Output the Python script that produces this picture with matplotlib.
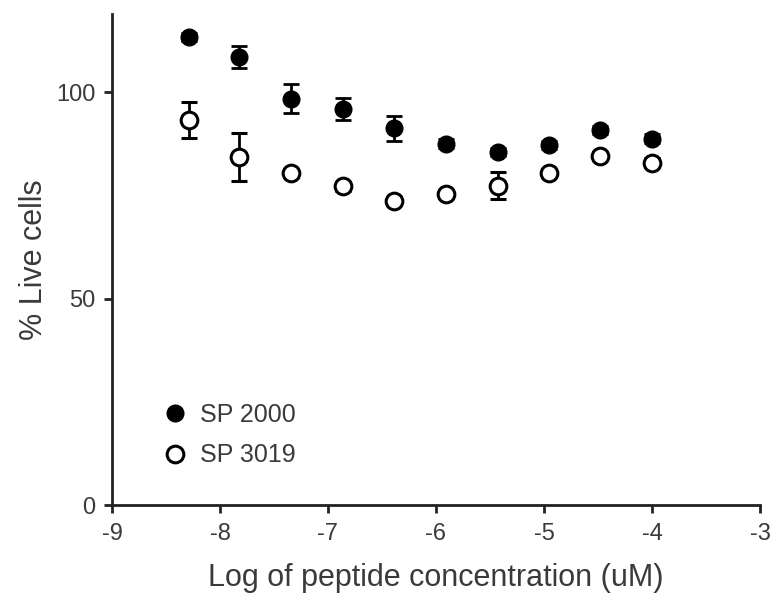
import numpy as np
import matplotlib
matplotlib.use("Agg")
import matplotlib.pyplot as plt

log_conc = [-8.29, -7.82, -7.34, -6.86, -6.39, -5.91, -5.43, -4.95, -4.48, -4.00]
sp2000 = [113.5, 108.5, 98.5, 96.0, 91.3, 87.6, 85.6, 87.2, 90.8, 88.8]
sp2000_err = [1.0, 2.7, 3.5, 2.7, 3.0, 1.0, 1.0, 1.0, 1.0, 1.0]
sp3019 = [93.3, 84.3, 80.5, 77.2, 73.6, 75.4, 77.4, 80.4, 84.5, 83.0]
sp3019_err = [4.3, 5.8, 1.0, 1.0, 1.0, 1.0, 3.2, 1.0, 1.0, 1.0]

xticks = [-9, -8, -7, -6, -5, -4, -3]
yticks = [0, 50, 100]

plt.rcParams['font.family'] = ['Liberation Sans', 'DejaVu Sans']
txt = '#3a3a3a'

fig = plt.figure(figsize=(7.76, 6.06), dpi=100)
ax = fig.add_axes([112/776, 1-505/606, (760-112)/776, (505-14)/606])

ax.errorbar(log_conc, sp2000, yerr=sp2000_err, fmt='o', color='black',
            markersize=12, capsize=6, elinewidth=2, capthick=2,
            mfc='black', mec='black', label='SP 2000')
ax.errorbar(log_conc, sp3019, yerr=sp3019_err, fmt='o', color='black',
            markersize=12, capsize=6, elinewidth=2, capthick=2,
            mfc='white', mec='black', mew=2.2, label='SP 3019')

ax.set_xlim(-9, -3)
ax.set_ylim(0, 119)
ax.set_xticks(xticks)
ax.set_yticks(yticks)
ax.set_xticklabels([str(t) for t in xticks])
ax.set_yticklabels([str(t) for t in yticks])
for s in ['top', 'right']:
    ax.spines[s].set_visible(False)
for s in ['left', 'bottom']:
    ax.spines[s].set_linewidth(2)
    ax.spines[s].set_color('#222222')
ax.tick_params(direction='out', length=6, width=2, color='#222222',
               labelsize=17, labelcolor=txt)
ax.tick_params(axis='x', pad=7)
ax.tick_params(axis='y', pad=6)

ax.set_xlabel('Log of peptide concentration (uM)', fontsize=22, color=txt, labelpad=13)
ax.set_ylabel('% Live cells', fontsize=22, color=txt, labelpad=5)

handles, labels = ax.get_legend_handles_labels()
handles = [h[0] for h in handles]
leg = ax.legend(handles, labels, loc='lower left', bbox_to_anchor=(0.043, 0.031),
                frameon=False, fontsize=18, handletextpad=0.5, labelspacing=0.65,
                handlelength=1.0)
for t in leg.get_texts():
    t.set_color(txt)

fig.savefig('out.png', dpi=100)
